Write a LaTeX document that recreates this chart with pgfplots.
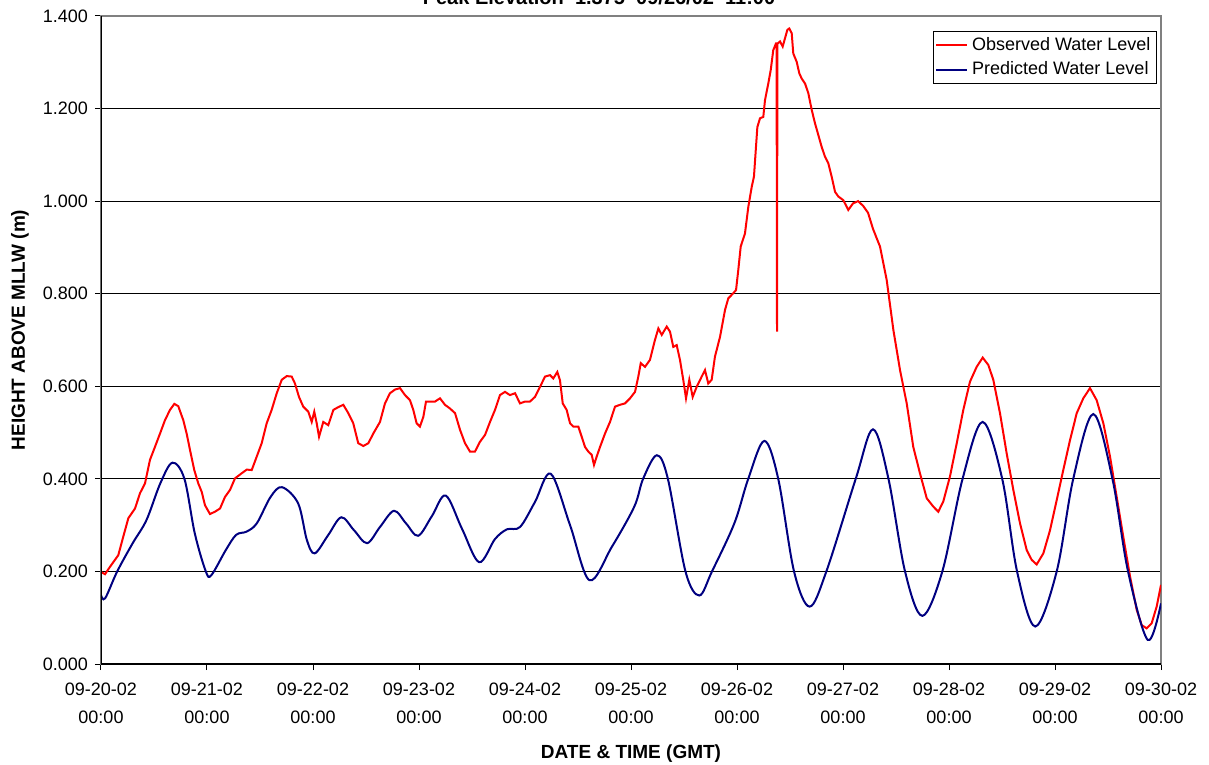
\documentclass[border=0pt]{standalone}
\usepackage{fontspec}
\setmainfont{Liberation Sans}
\usepackage{pgfplots}
\pgfplotsset{compat=1.18}
\definecolor{obsred}{RGB}{255,0,0}
\definecolor{prednavy}{RGB}{0,0,128}
\begin{document}
\begin{tikzpicture}
\begin{axis}[
  at={(0,0)}, anchor=origin,
  scale only axis, width=530bp, height=324bp,
  xmin=0, xmax=10, ymin=0, ymax=1.4,
  xtick={0,1,2,3,4,5,6,7,8,9,10},
  xticklabels={09-20-02\\00:00,09-21-02\\00:00,09-22-02\\00:00,09-23-02\\00:00,09-24-02\\00:00,09-25-02\\00:00,09-26-02\\00:00,09-27-02\\00:00,09-28-02\\00:00,09-29-02\\00:00,09-30-02\\00:00},
  ytick={0,0.2,0.4,0.6,0.8,1.0,1.2,1.4},
  /pgf/number format/fixed, /pgf/number format/fixed zerofill,
  /pgf/number format/precision=3, /pgf/number format/assume math mode=true,
  ymajorgrids, grid style={black, line width=0.5bp},
  axis line style={draw=gray, line width=1bp},
  tick align=outside, major tick length=3bp,
  tick style={black, line width=0.5bp},
  xtick pos=bottom, ytick pos=left,
  ticklabel style={font=\fontsize{9bp}{13.8bp}\selectfont},
  xticklabel style={align=center, anchor=north, yshift=-3bp},
  yticklabel style={anchor=east},
  xlabel={DATE \& TIME (GMT)},
  ylabel={HEIGHT ABOVE MLLW (m)},
  label style={font=\fontsize{9.5bp}{11bp}\selectfont\bfseries},
  xlabel style={at={(axis description cs:0.5,-0.1385)}, anchor=center},
  ylabel style={at={(axis description cs:-0.0764,0.5154)}, anchor=center},
  legend style={at={(rel axis cs:1,1)}, anchor=north east, xshift=-2bp, yshift=-7.5bp,
    draw=black, line width=0.5bp, fill=white, font=\fontsize{9bp}{11bp}\selectfont,
    inner sep=1bp, row sep=0bp},
  legend cell align=left,
  legend image code/.code={\draw[#1] (0bp,0bp) -- (15.5bp,0bp);},
]
\addplot[obsred, line width=1bp] coordinates {
(0,0.199) (0.038,0.194) (0.085,0.210) (0.163,0.235) (0.210,0.275) (0.258,0.315)
(0.321,0.336) (0.368,0.369) (0.415,0.390) (0.462,0.441) (0.509,0.469) (0.557,0.498)
(0.604,0.527) (0.651,0.549) (0.692,0.562) (0.729,0.557) (0.776,0.527) (0.808,0.498)
(0.840,0.462) (0.880,0.419) (0.918,0.390) (0.950,0.372) (0.981,0.343) (1.028,0.324)
(1.075,0.329) (1.123,0.336) (1.170,0.361) (1.217,0.376) (1.264,0.401) (1.327,0.412)
(1.375,0.420) (1.422,0.419) (1.469,0.448) (1.516,0.477) (1.563,0.520) (1.610,0.549)
(1.658,0.585) (1.705,0.614) (1.752,0.622) (1.799,0.621) (1.830,0.606) (1.868,0.577)
(1.908,0.556) (1.956,0.545) (1.988,0.523) (2.012,0.545) (2.035,0.520) (2.057,0.491)
(2.097,0.523) (2.144,0.516) (2.192,0.549) (2.239,0.555) (2.286,0.560) (2.333,0.542)
(2.380,0.520) (2.427,0.477) (2.475,0.471) (2.522,0.477) (2.569,0.498) (2.632,0.523)
(2.679,0.563) (2.726,0.585) (2.774,0.593) (2.821,0.596) (2.868,0.581) (2.915,0.570)
(2.946,0.549) (2.978,0.520) (3.009,0.513) (3.041,0.534) (3.066,0.567) (3.104,0.567)
(3.151,0.567) (3.198,0.574) (3.245,0.560) (3.292,0.552) (3.340,0.542) (3.387,0.506)
(3.434,0.477) (3.481,0.459) (3.528,0.459) (3.575,0.480) (3.623,0.495) (3.670,0.523)
(3.717,0.549) (3.764,0.581) (3.811,0.588) (3.858,0.581) (3.906,0.585) (3.953,0.563)
(4.000,0.567) (4.047,0.567) (4.094,0.577) (4.142,0.599) (4.189,0.621) (4.236,0.624)
(4.267,0.617) (4.305,0.631) (4.330,0.613) (4.356,0.563) (4.393,0.549) (4.425,0.520)
(4.456,0.513) (4.503,0.513) (4.535,0.491) (4.566,0.469) (4.597,0.459) (4.629,0.452)
(4.651,0.430) (4.676,0.448) (4.708,0.469) (4.755,0.498) (4.802,0.523) (4.849,0.556)
(4.896,0.560) (4.943,0.563) (4.991,0.574) (5.038,0.588) (5.069,0.621) (5.092,0.650)
(5.132,0.642) (5.179,0.657) (5.226,0.700) (5.258,0.725) (5.290,0.711) (5.337,0.729)
(5.368,0.718) (5.399,0.685) (5.431,0.689) (5.462,0.657) (5.493,0.614) (5.519,0.574)
(5.550,0.614) (5.582,0.577) (5.620,0.599) (5.667,0.621) (5.698,0.635) (5.729,0.606)
(5.761,0.614) (5.792,0.664) (5.840,0.707) (5.887,0.765) (5.918,0.790) (5.965,0.801)
(5.991,0.808) (6.012,0.851) (6.035,0.902) (6.075,0.930) (6.107,0.988) (6.139,1.031)
(6.160,1.053) (6.179,1.117) (6.192,1.160) (6.217,1.179) (6.248,1.182) (6.264,1.218)
(6.295,1.254) (6.318,1.283) (6.342,1.326) (6.368,1.341) (6.3736,1.341) (6.3774,0.718)
(6.3811,1.340) (6.406,1.345) (6.431,1.334) (6.453,1.352) (6.475,1.370) (6.493,1.373)
(6.516,1.363) (6.531,1.319) (6.563,1.301) (6.588,1.276) (6.610,1.265) (6.642,1.254)
(6.673,1.233) (6.705,1.197) (6.736,1.168) (6.767,1.143) (6.799,1.117) (6.830,1.096)
(6.861,1.082) (6.893,1.053) (6.925,1.020) (6.956,1.010) (7.003,1.002) (7.050,0.981)
(7.094,0.995) (7.142,1.000) (7.189,0.990) (7.236,0.975) (7.283,0.940) (7.349,0.902)
(7.412,0.830) (7.475,0.722) (7.538,0.635) (7.601,0.563) (7.663,0.469) (7.726,0.412)
(7.790,0.358) (7.852,0.340) (7.899,0.329) (7.946,0.351) (8.009,0.405) (8.073,0.477)
(8.135,0.549) (8.198,0.610) (8.261,0.642) (8.318,0.662) (8.371,0.646) (8.418,0.614)
(8.481,0.542) (8.544,0.455) (8.607,0.376) (8.670,0.304) (8.733,0.246) (8.780,0.225)
(8.827,0.215) (8.890,0.239) (8.953,0.289) (9.016,0.354) (9.078,0.419) (9.142,0.484)
(9.205,0.542) (9.267,0.574) (9.330,0.596) (9.393,0.570) (9.456,0.520) (9.519,0.448)
(9.582,0.361) (9.644,0.275) (9.708,0.189) (9.771,0.117) (9.818,0.084) (9.865,0.077)
(9.912,0.088) (9.959,0.124) (10.000,0.171)
};
\addlegendentry{Observed Water Level}
\addplot[prednavy, line width=1bp, smooth, tension=0.55] coordinates {
(0,0.149) (0.039,0.142) (0.153,0.200) (0.299,0.261) (0.429,0.311) (0.559,0.390)
(0.674,0.435) (0.787,0.400) (0.885,0.282) (0.989,0.200) (1.041,0.192) (1.177,0.246)
(1.275,0.279) (1.373,0.286) (1.470,0.304) (1.600,0.361) (1.708,0.382) (1.860,0.347)
(1.942,0.268) (2.016,0.239) (2.142,0.278) (2.267,0.317) (2.387,0.289) (2.510,0.261)
(2.632,0.296) (2.764,0.331) (2.877,0.304) (2.992,0.277) (3.123,0.320) (3.252,0.364)
(3.406,0.292) (3.567,0.220) (3.717,0.270) (3.830,0.291) (3.953,0.296) (4.094,0.350)
(4.243,0.411) (4.425,0.300) (4.608,0.181) (4.819,0.253) (5.031,0.340) (5.114,0.400)
(5.244,0.451) (5.348,0.400) (5.514,0.200) (5.644,0.148) (5.764,0.200) (5.975,0.304)
(6.106,0.400) (6.258,0.482) (6.389,0.400) (6.538,0.200) (6.685,0.124) (6.843,0.200)
(7.120,0.400) (7.283,0.507) (7.429,0.400) (7.585,0.200) (7.748,0.104) (7.937,0.200)
(8.128,0.400) (8.317,0.523) (8.502,0.400) (8.642,0.200) (8.814,0.081) (9.016,0.200)
(9.172,0.400) (9.361,0.540) (9.542,0.400) (9.689,0.200) (9.875,0.052) (10.000,0.131)
};
\addlegendentry{Predicted Water Level}
\draw[black, line width=1bp] (rel axis cs:0,0) -- (rel axis cs:0,1);
\draw[black, line width=1bp] (rel axis cs:0,0) -- (rel axis cs:1,0);
\end{axis}
\node[overlay, anchor=base, font=\fontsize{10bp}{12bp}\selectfont\bfseries] at (249bp,329.5bp) {Peak Elevation\ \ 1.375\ \ 09/26/02\ \ 11:00};
\pgfresetboundingbox
\path[use as bounding box] (-50.5bp,-50.5bp) rectangle (554bp,332bp);
\end{tikzpicture}
\end{document}
